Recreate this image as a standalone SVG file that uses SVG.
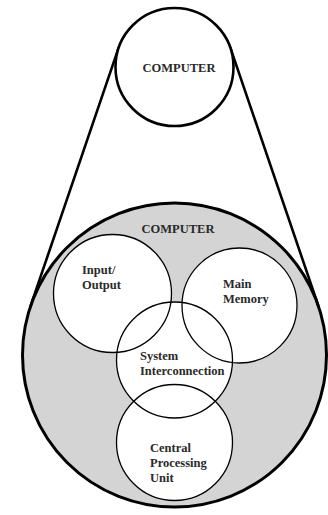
<svg xmlns="http://www.w3.org/2000/svg" width="328" height="515" viewBox="0 0 328 515">
<style>
.lbl{font-family:"Liberation Serif","Times New Roman",serif;font-weight:bold;font-size:12.5px;fill:#2a2a2a}
.mid{text-anchor:middle}
.inner{fill:none;stroke:#000;stroke-width:1.3}
.bg{fill:#fff;stroke:none}
.conn{stroke:#000;stroke-width:2.6;fill:none;stroke-linecap:round}
</style>
<rect width="328" height="515" fill="#fff"/>
<g id="computer-detail">
<circle cx="174.5" cy="355" r="152" fill="#d4d4d4" stroke="#000" stroke-width="3"/>
<text class="lbl mid" x="178" y="233">COMPUTER</text>
</g>
<g id="connectors">
<line class="conn" x1="118.6" y1="47.9" x2="30.6" y2="305.9"/>
<line class="conn" x1="230.4" y1="47.9" x2="318.4" y2="305.9"/>
</g>
<g id="computer-top">
<circle cx="174.5" cy="67" r="59" fill="#fff" stroke="#000" stroke-width="2.6"/>
<text class="lbl mid" x="179" y="72">COMPUTER</text>
</g>
<g id="fills">
<circle class="bg" cx="112.5" cy="293.5" r="59"/>
<circle class="bg" cx="239.5" cy="305.5" r="57.5"/>
<circle class="bg" cx="174.5" cy="360" r="58"/>
<circle class="bg" cx="174.5" cy="442.5" r="58"/>
</g>
<g id="input-output">
<circle class="inner" cx="112.5" cy="293.5" r="59"/>
<text class="lbl" x="82" y="274">Input/</text>
<text class="lbl" x="82" y="289">Output</text>
</g>
<g id="main-memory">
<circle class="inner" cx="239.5" cy="305.5" r="57.5"/>
<text class="lbl" x="223" y="288">Main</text>
<text class="lbl" x="223" y="303">Memory</text>
</g>
<g id="system-interconnection">
<circle class="inner" cx="174.5" cy="360" r="58"/>
<text class="lbl" x="140" y="360">System</text>
<text class="lbl" x="140" y="375">Interconnection</text>
</g>
<g id="cpu">
<circle class="inner" cx="174.5" cy="442.5" r="58"/>
<text class="lbl" x="150" y="452">Central</text>
<text class="lbl" x="150" y="467">Processing</text>
<text class="lbl" x="150" y="482">Unit</text>
</g>
</svg>
